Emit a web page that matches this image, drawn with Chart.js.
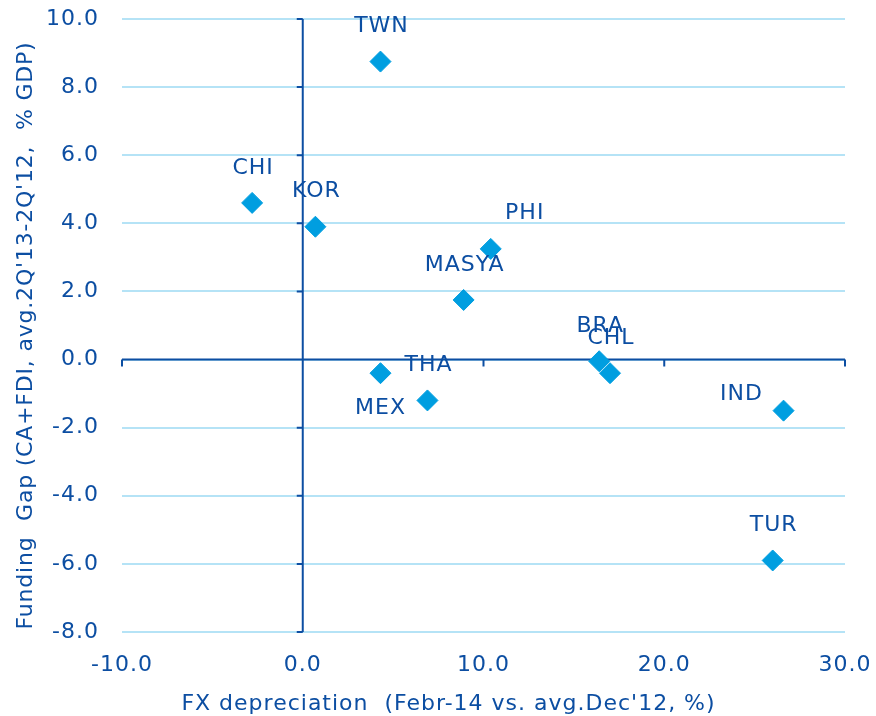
<!DOCTYPE html>
<html>
<head>
<meta charset="utf-8">
<title>Funding gap vs FX depreciation</title>
<script src="https://cdn.jsdelivr.net/npm/chart.js@4.4.1/dist/chart.umd.min.js"></script>
<style>
  html, body { margin: 0; padding: 0; background: #ffffff; }
  #wrap { width: 876px; height: 716px; }
</style>
</head>
<body>
<div id="wrap"><canvas id="chart" width="876" height="716"></canvas></div>
<script>
// Country codes and their coordinates
const countries = ['TWN', 'CHI', 'KOR', 'PHI', 'MASYA', 'BRA', 'CHL', 'THA', 'MEX', 'IND', 'TUR'];
// FX depreciation, Febr-14 vs. avg. Dec'12 (%)
const fxDepreciation = [4.3, -2.8, 0.7, 10.4, 8.9, 16.4, 17.0, 6.9, 4.3, 26.6, 26.0];
// Funding gap (CA+FDI), avg. 2Q'13-2Q'12 (% GDP)
const fundingGap = [8.75, 4.6, 3.9, 3.25, 1.75, -0.05, -0.4, -1.2, -0.4, -1.5, -5.9];

// Axis ranges and steps
const xTicks = { min: -10, max: 30, step: 10 };
const yTicks = { min: -8, max: 10, step: 2 };

const xTitle = "FX depreciation  (Febr-14 vs. avg.Dec'12, %)";
const yTitle = "Funding  Gap (CA+FDI, avg.2Q'13-2Q'12,  % GDP)";

const FONT = '"DejaVu Sans", "Open Sans", sans-serif';
const TRACKING = '1px';
const TEXT = '#0c4ea2';
const MARK = '#009ee0';
const GRID = '#b5e3f6';

// Where each country label sits relative to its marker (pixels)
const labelOffset = {
  PHI: [34, -36],
  MEX: [0, 35],
  IND: [-42, -16]
};
const defaultOffset = [1, -35];

const points = countries.map((c, i) => ({ x: fxDepreciation[i], y: fundingGap[i], label: c }));

// Slightly open letter spacing for every text on the canvas
const tracking = {
  id: 'tracking',
  beforeLayout(chart) { chart.ctx.letterSpacing = TRACKING; },
  beforeDraw(chart) { chart.ctx.letterSpacing = TRACKING; }
};

// Fixed axis band sizes, without extra room for overhanging tick labels
function fixBand(size, horizontal) {
  return s => {
    if (horizontal) s.height = size; else s.width = size;
    s.paddingTop = 0;
    s.paddingBottom = 0;
    s.paddingLeft = 0;
    s.paddingRight = 0;
  };
}

// Axes crossing at the origin, with small tick marks
const crossAxes = {
  id: 'crossAxes',
  beforeDatasetsDraw(chart) {
    const { ctx, chartArea: a, scales: { x, y } } = chart;
    const x0 = x.getPixelForValue(0);
    const y0 = y.getPixelForValue(0);
    ctx.save();
    ctx.strokeStyle = TEXT;
    ctx.lineWidth = 2;
    ctx.beginPath();
    ctx.moveTo(x0, a.top);
    ctx.lineTo(x0, a.bottom);
    ctx.moveTo(a.left, y0);
    ctx.lineTo(a.right, y0);
    for (let v = yTicks.min; v <= yTicks.max; v += yTicks.step) {
      const py = y.getPixelForValue(v);
      ctx.moveTo(x0 - 6, py);
      ctx.lineTo(x0, py);
    }
    for (let v = xTicks.min; v <= xTicks.max; v += xTicks.step) {
      const px = x.getPixelForValue(v);
      ctx.moveTo(px, y0);
      ctx.lineTo(px, y0 + 7);
    }
    ctx.stroke();
    ctx.restore();
  }
};

// Country labels beside the markers, plus the axis titles
const annotate = {
  id: 'annotate',
  afterDatasetsDraw(chart) {
    const { ctx, chartArea: a } = chart;
    const meta = chart.getDatasetMeta(0);
    ctx.save();
    ctx.letterSpacing = TRACKING;
    ctx.fillStyle = TEXT;
    ctx.font = '22px ' + FONT;
    ctx.textAlign = 'center';
    ctx.textBaseline = 'middle';
    meta.data.forEach((el, i) => {
      const name = countries[i];
      const off = labelOffset[name] || defaultOffset;
      ctx.fillText(name, el.x + off[0], el.y + off[1]);
    });

    ctx.fillText(xTitle, (a.left + a.right) / 2 - 35, a.bottom + 72);

    ctx.letterSpacing = '0.8px';
    ctx.translate(a.left - 96, (a.top + a.bottom) / 2 + 10);
    ctx.rotate(-Math.PI / 2);
    ctx.fillText(yTitle, 0, 0);
    ctx.restore();
  }
};

new Chart(document.getElementById('chart'), {
  type: 'scatter',
  data: {
    datasets: [{
      data: points,
      pointStyle: 'rectRot',
      pointRadius: 10.5,
      pointHoverRadius: 10.5,
      backgroundColor: MARK,
      borderColor: MARK,
      borderWidth: 1
    }]
  },
  options: {
    responsive: false,
    animation: false,
    events: [],
    layout: { padding: { top: 19, right: 31, left: 0, bottom: 0 } },
    plugins: { legend: { display: false }, tooltip: { enabled: false } },
    scales: {
      x: {
        type: 'linear',
        min: xTicks.min,
        max: xTicks.max,
        afterFit: fixBand(84, true),
        border: { display: false },
        grid: { display: false, drawTicks: false },
        ticks: {
          stepSize: xTicks.step,
          padding: 20,
          color: TEXT,
          font: { family: FONT, size: 22 },
          maxRotation: 0,
          callback: v => v.toFixed(1)
        }
      },
      y: {
        type: 'linear',
        min: yTicks.min,
        max: yTicks.max,
        afterFit: fixBand(122, false),
        border: { display: false },
        grid: { color: GRID, lineWidth: 2, drawTicks: false },
        ticks: {
          stepSize: yTicks.step,
          padding: 23,
          color: TEXT,
          font: { family: FONT, size: 22 },
          callback: v => v.toFixed(1)
        }
      }
    }
  },
  plugins: [tracking, crossAxes, annotate]
});
</script>
</body>
</html>
